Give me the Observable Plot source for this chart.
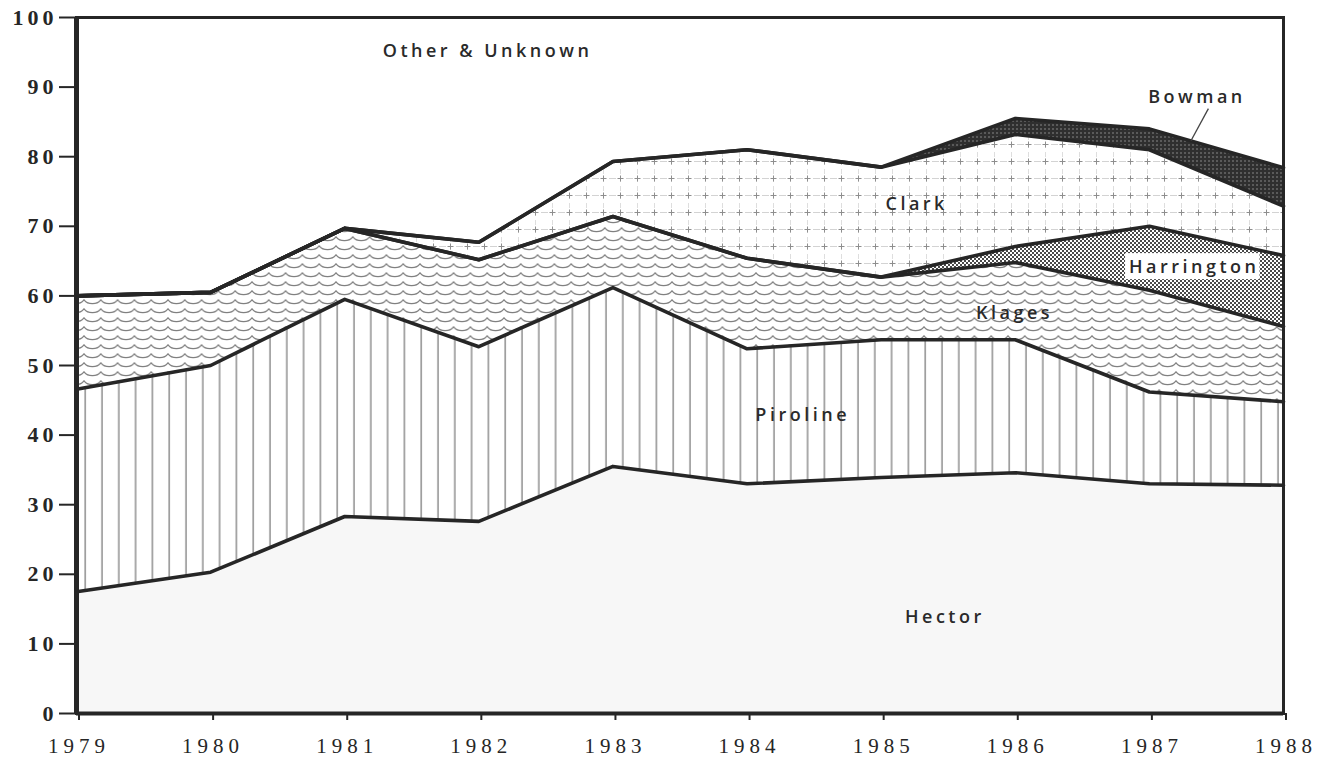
<!DOCTYPE html>
<html>
<head>
<meta charset="utf-8">
<script src="https://cdn.jsdelivr.net/npm/d3@7"></script>
<script src="https://cdn.jsdelivr.net/npm/@observablehq/plot@0.6"></script>
<style>
  html, body { margin: 0; padding: 0; background: #ffffff; }
  svg { display: block; }
  g[aria-label="y-axis tick label"] text { letter-spacing: 4px; }
  g[aria-label="x-axis tick label"] text { letter-spacing: 5px; }
  g[aria-label="text"] text { letter-spacing: 3.5px; }
</style>
</head>
<body>
<script>
// ---- data (percent share) ----
const years = [1979, 1980, 1981, 1982, 1983, 1984, 1985, 1986, 1987, 1988];
const seriesNames = ["Hector", "Piroline", "Klages", "Harrington", "Clark", "Bowman", "Other & Unknown"];
const hector     = [17.5, 20.3, 28.3, 27.6, 35.5, 33.0, 33.9, 34.6, 33.0, 32.8];
const piroline   = [29.1, 29.7, 31.2, 25.1, 25.7, 19.4, 19.8, 19.1, 13.2, 12.0];
const klages     = [13.4, 10.5, 10.2, 12.5, 10.2, 13.0,  9.0, 11.1, 14.6, 10.8];
const harrington = [ 0.0,  0.0,  0.0,  0.0,  0.0,  0.0,  0.0,  2.3,  9.2, 10.2];
const clark      = [ 0.0,  0.0,  0.0,  2.5,  7.9, 15.6, 15.8, 16.1, 11.0,  7.1];
const bowman     = [ 0.0,  0.0,  0.0,  0.0,  0.0,  0.0,  0.0,  2.3,  3.0,  5.5];
const other      = [40.0, 39.5, 30.3, 32.3, 20.7, 19.0, 21.5, 14.5, 16.0, 21.6];
const yTicks = [0, 10, 20, 30, 40, 50, 60, 70, 80, 90, 100];

// in-chart labels (data units)
const labelText  = ["Other & Unknown", "Clark", "Bowman", "Harrington", "Klages", "Piroline", "Hector"];
const labelYear  = [1982.05, 1985.25, 1987.34, 1987.32, 1985.98, 1984.40, 1985.46];
const labelValue = [95.1, 73.1, 88.6, 64.1, 57.5, 42.8, 13.8];
// Bowman leader line (data units)
const leaderFrom = {year: 1987.44, value: 86.9};
const leaderTo   = {year: 1987.31, value: 82.3};

// fills by series (patterns defined below)
const fills = ["url(#p-hector)", "url(#p-piroline)", "url(#p-klages)", "url(#p-harrington)",
               "url(#p-clark)", "url(#p-bowman)", "#ffffff"];

// ---- tidy table ----
const seriesValues = [hector, piroline, klages, harrington, clark, bowman, other];
const tidy = [];
seriesNames.forEach((name, i) => {
  years.forEach((yr, j) => tidy.push({series: name, year: yr, value: seriesValues[i][j]}));
});
const labels = labelText.map((t, i) => ({text: t, year: labelYear[i], value: labelValue[i]}));

const ink = "#262626";

const chart = Plot.plot({
  width: 1320,
  height: 759,
  marginTop: 17,
  marginRight: 37,
  marginBottom: 46,
  marginLeft: 76,
  style: {background: "#ffffff", color: ink},
  x: {domain: [1979, 1988]},
  y: {domain: [0, 100]},
  color: {domain: seriesNames, range: fills},
  marks: [
    Plot.areaY(tidy, Plot.stackY({x: "year", y: "value", z: "series", fill: "series"})),
    Plot.lineY(tidy, Plot.stackY2({
      x: "year", y: "value", z: "series",
      filter: d => d.series !== "Other & Unknown",
      stroke: ink, strokeWidth: 3.6, strokeLinejoin: "round", strokeLinecap: "round"
    })),
    Plot.link([{x1: leaderFrom.year, y1: leaderFrom.value, x2: leaderTo.year, y2: leaderTo.value}],
      {x1: "x1", y1: "y1", x2: "x2", y2: "y2", stroke: "#444", strokeWidth: 1.3}),
    Plot.text(labels, {
      x: "year", y: "value", text: "text",
      fontFamily: "Open Sans", fontWeight: 600, fontSize: 18, fill: "#2a2a2a", dx: 2
    }),
    Plot.frame({stroke: ink, strokeWidth: 3}),
    Plot.ruleX([1979], {stroke: ink, strokeWidth: 5}),
    Plot.ruleY([0], {stroke: ink, strokeWidth: 4}),
    Plot.axisY({
      ticks: yTicks, tickSize: 17, tickPadding: 2, strokeWidth: 2,
      fontFamily: "Liberation Serif", fontWeight: "bold", fontSize: 22, label: null
    }),
    Plot.axisX({
      ticks: years, tickFormat: "d", tickSize: 7, tickPadding: 18, strokeWidth: 2,
      fontFamily: "Liberation Serif", fontSize: 21, label: null, dx: 2.5
    })
  ]
});

// ---- patterns ----
const defs = document.createElementNS("http://www.w3.org/2000/svg", "defs");
defs.innerHTML = `
  <pattern id="p-hector" patternUnits="userSpaceOnUse" width="10" height="10">
    <rect width="10" height="10" fill="#f7f7f7"/>
  </pattern>
  <pattern id="p-piroline" patternUnits="userSpaceOnUse" width="16.8" height="20" x="10">
    <rect width="16.8" height="20" fill="#ffffff"/>
    <line x1="8" y1="0" x2="8" y2="20" stroke="#666" stroke-width="1.1"/>
  </pattern>
  <pattern id="p-klages" patternUnits="userSpaceOnUse" width="16.8" height="9">
    <rect width="16.8" height="9" fill="#ffffff"/>
    <path d="M0,2.5 C3,8 13.8,8 16.8,2.5" fill="none" stroke="#808080" stroke-width="1.2"/>
  </pattern>
  <pattern id="p-clark" patternUnits="userSpaceOnUse" width="17" height="17">
    <rect width="17" height="17" fill="#ffffff"/>
    <line x1="0" y1="8.5" x2="17" y2="8.5" stroke="#c8c8c8" stroke-width="0.8" stroke-dasharray="4,3"/>
    <line x1="8.5" y1="0" x2="8.5" y2="17" stroke="#d6d6d6" stroke-width="0.8" stroke-dasharray="4,4"/>
    <line x1="5.5" y1="8.5" x2="11.5" y2="8.5" stroke="#8e8e8e" stroke-width="1"/>
    <line x1="8.5" y1="5.5" x2="8.5" y2="11.5" stroke="#8e8e8e" stroke-width="1"/>
  </pattern>
  <pattern id="p-harrington" patternUnits="userSpaceOnUse" width="4" height="4">
    <rect width="4" height="4" fill="#ffffff"/>
    <rect x="0" y="0" width="2" height="2" fill="#4a4a4a"/>
    <rect x="2" y="2" width="2" height="2" fill="#4a4a4a"/>
  </pattern>
  <pattern id="p-bowman" patternUnits="userSpaceOnUse" width="4" height="4">
    <rect width="4" height="4" fill="#2f2f2f"/>
    <rect x="0" y="0" width="2" height="2" fill="#5a5a5a"/>
  </pattern>
`;
chart.insertBefore(defs, chart.firstChild);
document.body.appendChild(chart);

// white box behind the "Harrington" label
chart.querySelectorAll('g[aria-label="text"] text').forEach(t => {
  if (t.textContent === "Harrington") {
    const b = t.getBBox();
    const r = document.createElementNS("http://www.w3.org/2000/svg", "rect");
    r.setAttribute("x", b.x - 4);
    r.setAttribute("y", b.y - 1);
    r.setAttribute("width", b.width + 4);
    r.setAttribute("height", b.height + 2);
    r.setAttribute("fill", "#ffffff");
    const tr = t.getAttribute("transform");
    if (tr) r.setAttribute("transform", tr);
    t.parentNode.insertBefore(r, t);
  }
});
</script>
</body>
</html>
